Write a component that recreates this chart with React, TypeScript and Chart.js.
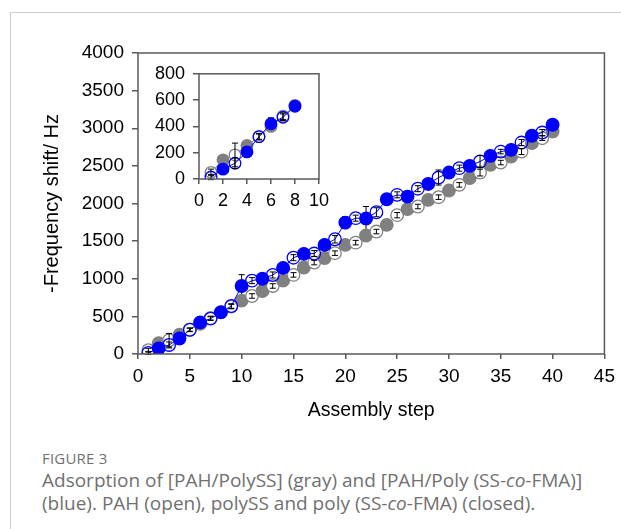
import React, { useEffect, useRef } from "react";
import { Chart, registerables } from "chart.js";
Chart.register(...registerables);

// ---- data ----
const steps = [1, 2, 3, 4, 5, 6, 7, 8, 9, 10, 11, 12, 13, 14, 15, 16, 17, 18, 19, 20, 21, 22, 23, 24, 25, 26, 27, 28, 29, 30, 31, 32, 33, 34, 35, 36, 37, 38, 39, 40];
const grayShift = [50, 145, 183, 255, 322, 400, 478, 560, 630, 709, 771, 835, 904, 975, 1051, 1150, 1215, 1275, 1340, 1450, 1480, 1575, 1627, 1716, 1845, 1925, 1960, 2048, 2084, 2172, 2248, 2337, 2411, 2514, 2544, 2624, 2690, 2802, 2868, 2957];
const grayErr = [25, 20, 90, 15, 25, 15, 25, 15, 30, 15, 30, 15, 30, 15, 30, 15, 30, 15, 30, 15, 30, 15, 30, 15, 35, 15, 30, 15, 30, 15, 30, 15, 45, 15, 30, 15, 40, 15, 30, 15];
const blueShift = [15, 75, 120, 206, 322, 420, 470, 553, 638, 904, 975, 1000, 1050, 1144, 1280, 1330, 1335, 1450, 1525, 1746, 1805, 1800, 1884, 2057, 2115, 2092, 2197, 2260, 2345, 2411, 2470, 2500, 2558, 2633, 2690, 2713, 2810, 2900, 2943, 3046];
const blueErr = [20, 20, 40, 20, 20, 45, 25, 15, 30, 150, 40, 20, 40, 30, 40, 20, 40, 20, 50, 80, 40, 160, 60, 40, 40, 20, 40, 20, 100, 40, 40, 20, 80, 30, 30, 20, 40, 40, 40, 50];
const insetCount = 8;

const mainXTicks = { min: 0, max: 45, step: 5 };
const mainYTicks = { min: 0, max: 4000, step: 500 };
const insetXTicks = { min: 0, max: 10, step: 2 };
const insetYTicks = { min: 0, max: 800, step: 200 };

const GRAY = "#808080";
const BLUE = "#0000ff";
const FRAME = "#595959";
const FONT = "Arial, 'Liberation Sans', sans-serif";

function makeDatasets(n: number, radius: number) {
  const pts = (vals: number[]) => steps.slice(0, n).map((s, i) => ({ x: s, y: vals[i] }));
  return [
    {
      label: "PAH/PolySS",
      data: pts(grayShift),
      errors: grayErr.slice(0, n),
      order: 2,
      borderColor: GRAY,
      borderWidth: 1,
      pointRadius: radius,
      pointBorderWidth: 1.3,
      pointBorderColor: GRAY,
      pointBackgroundColor: (c: any) => (c.dataIndex % 2 === 0 ? "#ffffff" : GRAY),
      showLine: true,
    },
    {
      label: "PAH/Poly(SS-co-FMA)",
      data: pts(blueShift),
      errors: blueErr.slice(0, n),
      order: 1,
      borderColor: BLUE,
      borderWidth: 1,
      pointRadius: radius,
      pointBorderWidth: 1.3,
      pointBorderColor: BLUE,
      pointBackgroundColor: (c: any) => (c.dataIndex % 2 === 0 ? "rgba(0,0,0,0)" : BLUE),
      showLine: true,
    },
  ];
}

// open points (odd steps) get their error bars above the marker, closed ones below
function drawErrors(chart: any, openPoints: boolean) {
  const { ctx, scales } = chart;
  ctx.save();
  ctx.strokeStyle = "#000";
  ctx.lineWidth = 1;
  chart.data.datasets.forEach((ds: any) => {
    ds.data.forEach((p: any, i: number) => {
      if ((i % 2 === 0) !== openPoints) return;
      const e = ds.errors[i];
      const x = scales.x.getPixelForValue(p.x);
      const y1 = scales.y.getPixelForValue(p.y + e);
      const y2 = scales.y.getPixelForValue(p.y - e);
      ctx.beginPath();
      ctx.moveTo(x, y1);
      ctx.lineTo(x, y2);
      ctx.moveTo(x - 3, y1);
      ctx.lineTo(x + 3, y1);
      ctx.moveTo(x - 3, y2);
      ctx.lineTo(x + 3, y2);
      ctx.stroke();
    });
  });
  ctx.restore();
}

const framePlugin = {
  id: "frameAndErrors",
  beforeDatasetsDraw(chart: any) {
    drawErrors(chart, false);
  },
  afterDatasetsDraw(chart: any) {
    drawErrors(chart, true);
    const { ctx, chartArea: a } = chart;
    ctx.save();
    ctx.strokeStyle = FRAME;
    ctx.lineWidth = 1.5;
    ctx.strokeRect(a.left, a.top, a.right - a.left, a.bottom - a.top);
    ctx.restore();
  },
};

function makeConfig(opts: any) {
  const {
    n, radius, xT, yT, fontSize, pad, yWidth, xHeight, titles,
  } = opts;
  return {
    type: "scatter",
    data: { datasets: makeDatasets(n, radius) },
    options: {
      animation: false,
      responsive: false,
      events: [],
      layout: { padding: pad },
      plugins: { legend: { display: false }, tooltip: { enabled: false } },
      scales: {
        x: {
          type: "linear",
          min: xT.min,
          max: xT.max,
          afterFit: (ax: any) => { ax.height = xHeight; },
          ticks: { stepSize: xT.step, color: "#000", font: { family: FONT, size: fontSize }, padding: 6, maxRotation: 0, callback: (v: any) => String(v) },
          grid: { drawOnChartArea: false, drawTicks: true, tickLength: 5, color: FRAME, lineWidth: 1.5 },
          border: { display: false },
          title: titles
            ? { display: true, text: "Assembly step", color: "#000", font: { family: FONT, size: 19.5 }, padding: { top: 0, bottom: 8 } }
            : { display: false },
        },
        y: {
          type: "linear",
          min: yT.min,
          max: yT.max,
          afterFit: (ax: any) => { ax.width = yWidth; },
          ticks: { stepSize: yT.step, color: "#000", font: { family: FONT, size: fontSize }, padding: 8, callback: (v: any) => String(v) },
          grid: { drawOnChartArea: false, drawTicks: true, tickLength: 6, color: FRAME, lineWidth: 1.5 },
          border: { display: false },
          title: titles
            ? { display: true, text: "-Frequency shift/ Hz", color: "#000", font: { family: FONT, size: 20 }, padding: { top: 30, bottom: 0 } }
            : { display: false },
        },
      },
    },
    plugins: [framePlugin],
  } as any;
}

export default function App() {
  const mainRef = useRef<HTMLCanvasElement>(null);
  const insetRef = useRef<HTMLCanvasElement>(null);

  useEffect(() => {
    const main = new Chart(
      mainRef.current!,
      makeConfig({
        n: steps.length,
        radius: 6.3,
        xT: mainXTicks,
        yT: mainYTicks,
        fontSize: 19,
        pad: { left: 10, top: 53, right: 12, bottom: 0 },
        yWidth: 128,
        xHeight: 76,
        titles: true,
      })
    );
    const inset = new Chart(
      insetRef.current!,
      makeConfig({
        n: insetCount,
        radius: 5.8,
        xT: insetXTicks,
        yT: insetYTicks,
        fontSize: 18,
        pad: { left: 0, top: 18, right: 11, bottom: 0 },
        yWidth: 69,
        xHeight: 36,
        titles: false,
      })
    );
    return () => {
      main.destroy();
      inset.destroy();
    };
  }, []);

  const captionStyle: React.CSSProperties = {
    position: "absolute",
    left: 42,
    fontFamily: "'Open Sans', 'Noto Sans', sans-serif",
    color: "#707070",
    whiteSpace: "nowrap",
  };

  return (
    <div style={{ position: "absolute", left: 0, top: 0, width: 621, height: 529, overflow: "hidden", background: "#fff" }}>
      <div style={{ position: "absolute", left: 10, top: 12, width: 611, height: 1, background: "#cfcfcf" }} />
      <div style={{ position: "absolute", left: 10, top: 12, width: 1, height: 517, background: "#cfcfcf" }} />
      <canvas ref={mainRef} width={621} height={430} style={{ position: "absolute", left: 0, top: 0, width: 621, height: 430 }} />
      <canvas ref={insetRef} width={205} height={160} style={{ position: "absolute", left: 130, top: 55, width: 205, height: 160 }} />
      <div style={{ ...captionStyle, top: 448, fontSize: 15, letterSpacing: 0.2 }}>FIGURE 3</div>
      <div style={{ ...captionStyle, top: 467, fontSize: 19 }}>
        Adsorption of [PAH/PolySS] (gray) and [PAH/Poly (SS-<i>co</i>-FMA)]
      </div>
      <div style={{ ...captionStyle, top: 490, fontSize: 19 }}>
        (blue). PAH (open), polySS and poly (SS-<i>co</i>-FMA) (closed).
      </div>
    </div>
  );
}
